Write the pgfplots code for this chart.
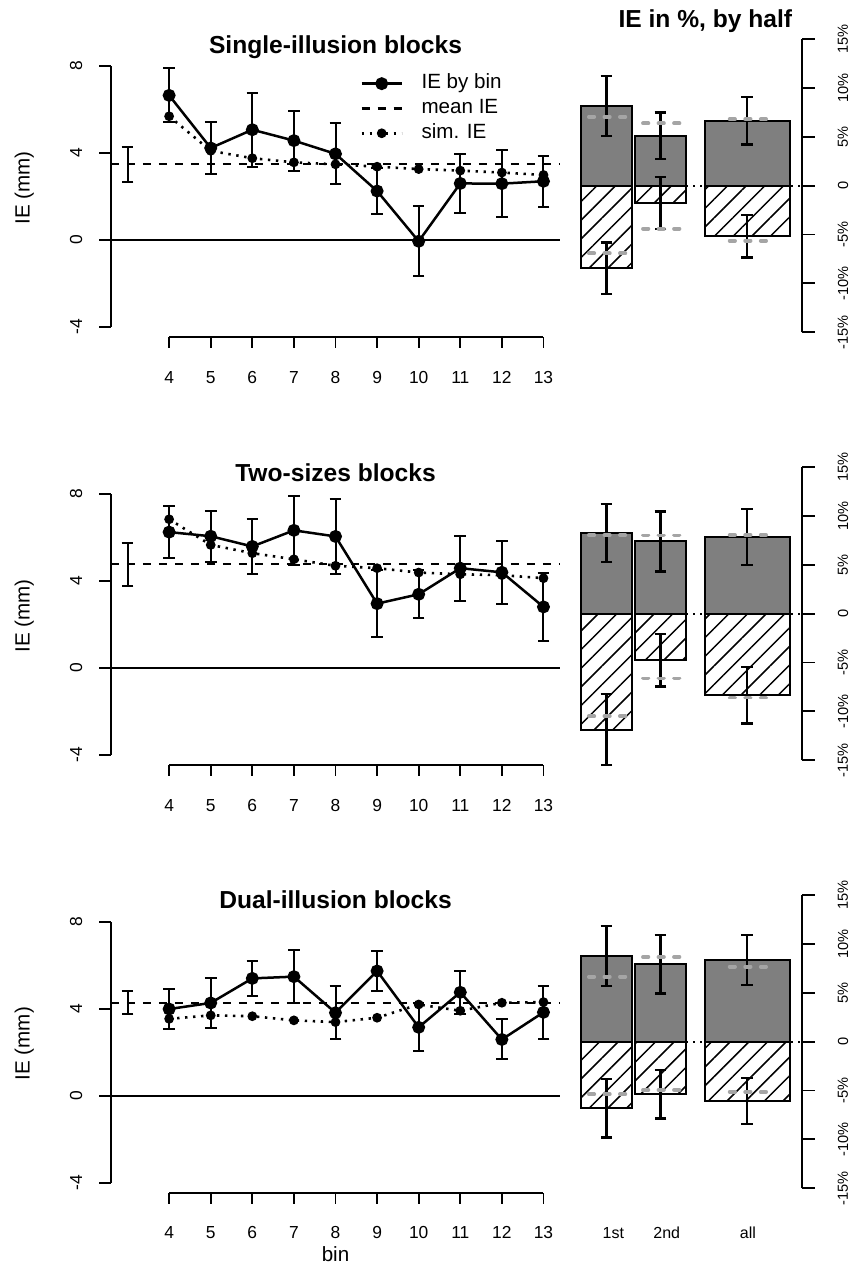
\documentclass[border=0pt]{standalone}
\usepackage{pgfplots}
\pgfplotsset{compat=1.18}
\usepackage{fontspec}
\setmainfont{Liberation Sans}
\usetikzlibrary{patterns.meta}
\definecolor{barg}{RGB}{127,127,127}
\definecolor{simg}{RGB}{165,165,165}
\newcommand\ticklab{\fontsize{8.7}{10}\selectfont}
\newcommand\rticklab{\fontsize{7.3}{9}\selectfont}
\newcommand\titlefont{\fontsize{12.3}{14}\selectfont\bfseries}
\newcommand\labfont{\fontsize{10.3}{12}\selectfont}

\pgfplotsset{
  leftpanel/.style={scale only axis, hide axis, clip=false, enlargelimits=false,
    width=224.6pt, height=140.9pt, xmin=2.6, xmax=13.4, ymin=-4.48, ymax=8.48, anchor=south west},
  rightpanel/.style={scale only axis, hide axis, clip=false, enlargelimits=false,
    width=120.85pt, height=146.65pt, xmin=0, xmax=241.7, ymin=-15, ymax=15, anchor=south west},
  errL/.style={error bars/y dir=both, error bars/y explicit,
    error bars/error bar style={line width=1pt, solid, black},
    error bars/error mark options={rotate=90, mark size=2.9pt, line width=1pt, solid, black}},
  errR/.style={error bars/y dir=both, error bars/y explicit,
    error bars/error bar style={line width=1.15pt, solid, black},
    error bars/error mark options={rotate=90, mark size=2.9pt, line width=1.15pt, solid, black}},
  ieplot/.style={black, line width=1.25pt, mark=*, mark size=2.6pt, mark options={solid}},
  meanplot/.style={black, line width=1.05pt, dash pattern=on 4pt off 4pt},
  simplot/.style={black, line width=1.3pt, dash pattern=on 1.2pt off 2.8pt, mark=*, mark size=1.75pt, mark options={solid}},
  posbar/.style={ybar, bar width=#1, fill=barg, draw=black, line width=1pt, errR},
  negbar/.style={ybar, bar width=#1, pattern={Lines[angle=45,distance=6.6pt,line width=0.75pt]}, draw=black, line width=1pt, errR},
  simmark/.style={only marks, mark=-, mark size=1.35pt, color=simg, mark options={line width=1.9pt, line cap=round}},
  zeroR/.style={black, line width=1pt, dash pattern=on 0.9pt off 2.6pt},
}

\newcommand{\leftdeco}[1]{%
  \draw[line width=0.95pt] (axis cs:2.6,-4) -- (axis cs:2.6,8);
  \pgfplotsinvokeforeach{-4,0,4,8}{%
    \draw[line width=0.95pt] (axis cs:2.6,##1) -- ++(-6.2pt,0pt);
    \node[rotate=90, font=\ticklab, inner sep=0pt] at ([xshift=-17.35pt]axis cs:2.6,##1) {##1};
  }
  \draw[line width=0.95pt] (axis cs:4,-4.48) -- (axis cs:13,-4.48);
  \pgfplotsinvokeforeach{4,5,6,7,8,9,10,11,12,13}{%
    \draw[line width=0.95pt] (axis cs:##1,-4.48) -- ++(0pt,-5.5pt);
    \node[font=\ticklab, anchor=base, inner sep=0pt] at ([yshift=-22.95pt]axis cs:##1,-4.48) {##1};
  }
  \node[rotate=90, font=\labfont, inner sep=0pt] at ([xshift=-43.35pt]axis cs:2.6,2.39) {IE (mm)};
  \node[font=\titlefont, anchor=base, inner sep=0pt] at ([yshift=1.15pt]axis cs:8,8.48) {#1};
  \addplot[black, line width=0.95pt] coordinates {(2.6,0) (13.4,0)};
}

\newcommand{\rightdeco}{%
  \draw[line width=0.95pt] (axis cs:241.7,-15) -- (axis cs:241.7,15);
  \pgfplotsinvokeforeach{-15,-10,-5,0,5,10,15}{%
    \draw[line width=0.95pt] (axis cs:241.7,##1) -- ++(6.65pt,0pt);}
  \pgfplotsinvokeforeach{-15,-10,-5,5,10,15}{%
    \node[rotate=90, font=\rticklab, inner sep=0pt] at ([xshift=20.4pt]axis cs:241.7,##1) {##1\%};}
  \node[rotate=90, font=\rticklab, inner sep=0pt] at ([xshift=20.4pt]axis cs:241.7,0) {0};
  \addplot[zeroR] coordinates {(21,0) (241.7,0)};
}

\begin{document}
\begin{tikzpicture}
\path[use as bounding box] (0,0) rectangle (427.5pt,634pt);

% ---------------- Single-illusion blocks ----------------
\begin{axis}[leftpanel, at={(55.45pt,465.3pt)},
  legend style={draw=none, fill=none, at={(0.5546,0.9337)}, anchor=north west,
    font=\labfont, row sep=3.4pt, column sep=9.25pt, inner sep=0pt,
    nodes={inner sep=0pt, text height=7pt, text depth=2pt}},
  legend cell align=left,
  legend image code/.code={\draw[mark repeat=2,mark phase=2,#1] plot coordinates {(0pt,0pt) (10pt,0pt) (20pt,0pt)};}]
\addlegendimage{ieplot}
\addlegendimage{meanplot}
\addlegendimage{simplot}
\legend{IE by bin, mean IE, sim. IE}
\leftdeco{Single-illusion blocks}
\addplot[meanplot] coordinates {(2.6,3.48) (13.4,3.48)};
\addplot[black, mark=none, errL] coordinates {(3,3.47) +- (0,0.82)};
\addplot[simplot] coordinates {(4,5.69) (5,4.10) (6,3.76) (7,3.57) (8,3.48) (9,3.37) (10,3.26) (11,3.19) (12,3.10) (13,2.99)};
\addplot[ieplot, errL] coordinates {
 (4,6.65) +- (0,1.24) (5,4.23) +- (0,1.20) (6,5.07) +- (0,1.70) (7,4.57) +- (0,1.38)
 (8,3.96) +- (0,1.40) (9,2.25) +- (0,1.05) (10,-0.06) +- (0,1.60) (11,2.60) +- (0,1.35)
 (12,2.59) +- (0,1.55) (13,2.70) +- (0,1.17)};
\end{axis}

\begin{axis}[rightpanel, at={(280pt,467.85pt)}]
\rightdeco
\node[font=\titlefont, anchor=base, inner sep=0pt] at ([yshift=5.65pt]axis cs:145,15) {IE in \%, by half};
\addplot[posbar=50.7] coordinates {(46.3,8.15) +- (0,3.07) (100.3,5.08) +- (0,2.39)};
\addplot[posbar=85] coordinates {(186.8,6.65) +- (0,2.44)};
\addplot[negbar=50.7] coordinates {(46.3,-8.45) +- (0,2.64) (100.3,-1.77) +- (0,2.63)};
\addplot[negbar=85] coordinates {(186.8,-5.18) +- (0,2.18)};
\addplot[simmark] coordinates {(31.5,7.04) (47,7.04) (62.5,7.04) (85.5,6.37) (101,6.37) (116.5,6.37) (172,6.78) (187.5,6.78) (203,6.78)};
\addplot[simmark] coordinates {(31.5,-6.93) (47,-6.93) (62.5,-6.93) (85.5,-4.40) (101,-4.40) (116.5,-4.40) (172,-5.63) (187.5,-5.63) (203,-5.63)};
\end{axis}

% ---------------- Two-sizes blocks ----------------
\begin{axis}[leftpanel, at={(55.45pt,251.4pt)}]
\leftdeco{Two-sizes blocks}
\addplot[meanplot] coordinates {(2.6,4.76) (13.4,4.76)};
\addplot[black, mark=none, errL] coordinates {(3,4.75) +- (0,1.01)};
\addplot[simplot] coordinates {(4,6.83) (5,5.65) (6,5.27) (7,4.99) (8,4.69) (9,4.58) (10,4.38) (11,4.30) (12,4.26) (13,4.12)};
\addplot[ieplot, errL] coordinates {
 (4,6.24) +- (0,1.20) (5,6.05) +- (0,1.17) (6,5.58) +- (0,1.26) (7,6.32) +- (0,1.58)
 (8,6.04) +- (0,1.74) (9,2.95) +- (0,1.55) (10,3.38) +- (0,1.10) (11,4.58) +- (0,1.50)
 (12,4.39) +- (0,1.46) (13,2.80) +- (0,1.58)};
\end{axis}

\begin{axis}[rightpanel, at={(280pt,253.85pt)}]
\rightdeco
\addplot[posbar=50.7] coordinates {(46.3,8.25) +- (0,3.00) (100.3,7.38) +- (0,3.08)};
\addplot[posbar=85] coordinates {(186.8,7.84) +- (0,2.85)};
\addplot[negbar=50.7] coordinates {(46.3,-11.86) +- (0,3.63) (100.3,-4.75) +- (0,2.70)};
\addplot[negbar=85] coordinates {(186.8,-8.34) +- (0,2.90)};
\addplot[simmark] coordinates {(31.5,8.04) (47,8.04) (62.5,8.04) (85.5,8.00) (101,8.00) (116.5,8.00) (172,8.04) (187.5,8.04) (203,8.04)};
\addplot[simmark] coordinates {(31.5,-10.49) (47,-10.49) (62.5,-10.49) (85.5,-6.63) (101,-6.63) (116.5,-6.63) (172,-8.58) (187.5,-8.58) (203,-8.58)};
\end{axis}

% ---------------- Dual-illusion blocks ----------------
\begin{axis}[leftpanel, at={(55.45pt,37.5pt)}]
\leftdeco{Dual-illusion blocks}
\node[font=\labfont, anchor=base, inner sep=0pt] at ([yshift=-34.35pt]axis cs:8,-4.48) {bin};
\addplot[meanplot] coordinates {(2.6,4.27) (13.4,4.27)};
\addplot[black, mark=none, errL] coordinates {(3,4.26) +- (0,0.53)};
\addplot[simplot] coordinates {(4,3.53) (5,3.69) (6,3.65) (7,3.46) (8,3.38) (9,3.58) (10,4.19) (11,3.90) (12,4.27) (13,4.30)};
\addplot[ieplot, errL] coordinates {
 (4,3.98) +- (0,0.90) (5,4.26) +- (0,1.13) (6,5.39) +- (0,0.80) (7,5.47) +- (0,1.23)
 (8,3.81) +- (0,1.23) (9,5.73) +- (0,0.92) (10,3.14) +- (0,1.10) (11,4.75) +- (0,0.98)
 (12,2.58) +- (0,0.92) (13,3.83) +- (0,1.21)};
\end{axis}

\begin{axis}[rightpanel, at={(280pt,39.85pt)}]
\rightdeco
\node[font=\fontsize{8}{9.6}\selectfont, anchor=base, inner sep=0pt] at ([yshift=-25.1pt]axis cs:53.3,-15) {1st};
\node[font=\fontsize{8}{9.6}\selectfont, anchor=base, inner sep=0pt] at ([yshift=-25.1pt]axis cs:106.5,-15) {2nd};
\node[font=\fontsize{8}{9.6}\selectfont, anchor=base, inner sep=0pt] at ([yshift=-25.1pt]axis cs:187.5,-15) {all};
\addplot[posbar=50.7] coordinates {(46.3,8.79) +- (0,3.07) (100.3,7.91) +- (0,2.98)};
\addplot[posbar=85] coordinates {(186.8,8.35) +- (0,2.59)};
\addplot[negbar=50.7] coordinates {(46.3,-6.81) +- (0,2.98) (100.3,-5.38) +- (0,2.47)};
\addplot[negbar=85] coordinates {(186.8,-6.06) +- (0,2.37)};
\addplot[simmark] coordinates {(31.5,6.65) (47,6.65) (62.5,6.65) (85.5,8.66) (101,8.66) (116.5,8.66) (172,7.67) (187.5,7.67) (203,7.67)};
\addplot[simmark] coordinates {(31.5,-5.38) (47,-5.38) (62.5,-5.38) (85.5,-4.94) (101,-4.94) (116.5,-4.94) (172,-5.14) (187.5,-5.14) (203,-5.14)};
\end{axis}
\end{tikzpicture}
\end{document}
